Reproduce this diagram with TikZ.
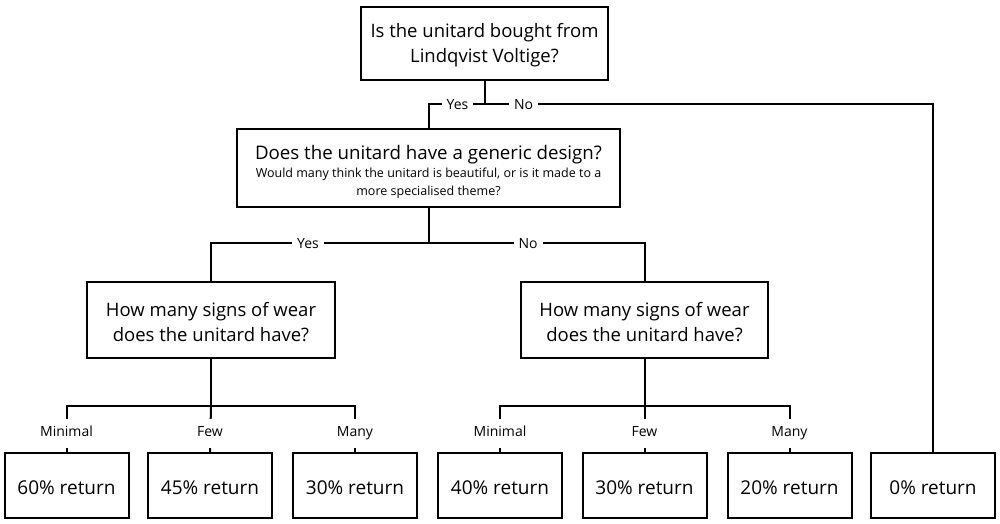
\documentclass[tikz,border=0pt]{standalone}
\usepackage{fontspec}
\setmainfont{Open Sans}
\newcommand\topgap[1]{\rule{0pt}{#1}}
\begin{document}
\begin{tikzpicture}[x=1pt,y=-1pt,
  box/.style={draw,line width=2pt,inner sep=0pt,align=center},
  qtext/.style={font=\fontsize{18.5}{25}\selectfont},
  rbox/.style={box,minimum width=124pt,minimum height=65pt,font=\fontsize{19}{23}\selectfont,
    text height=17pt,text depth=0pt},
  lbl/.style={fill=white,font=\fontsize{14}{16}\selectfont,inner xsep=5pt,inner ysep=1pt,
    text height=10pt,text depth=0pt},
  vlbl/.style={fill=white,font=\fontsize{14}{16}\selectfont,inner xsep=2pt,inner ysep=0pt,
    text height=10pt,text depth=3pt,minimum height=29pt},
  conn/.style={line width=2pt}]
\useasboundingbox (0,0) rectangle (1000,524);
% question boxes
\node[box,qtext,minimum width=247pt,minimum height=73pt] (q1) at (484.5,43.5)
  {\topgap{18pt}Is the unitard bought from\\Lindqvist Voltige?};
\node[box,minimum width=383pt,minimum height=78pt,font=\fontsize{12.5}{18}\selectfont] (q2) at (428.5,168)
  {{\fontsize{18.7}{22}\selectfont\topgap{22pt}Does the unitard have a generic design?}\\
   Would many think the unitard is beautiful, or is it made to a\\
   more specialised theme?};
\node[box,qtext,minimum width=248pt,minimum height=76pt] (q3) at (211,320)
  {\topgap{19pt}How many signs of wear\\does the unitard have?};
\node[box,qtext,minimum width=247pt,minimum height=76pt] (q4) at (644.5,320)
  {\topgap{19pt}How many signs of wear\\does the unitard have?};
% result boxes
\node[rbox] (r1) at (66.5,485.5) {60\% return};
\node[rbox] (r2) at (210,485.5) {45\% return};
\node[rbox] (r3) at (355,485.5) {30\% return};
\node[rbox] (r4) at (500,485.5) {40\% return};
\node[rbox] (r5) at (644.5,485.5) {30\% return};
\node[rbox] (r6) at (789.5,485.5) {20\% return};
\node[rbox] (r7) at (933,485.5) {0\% return};
% junctions
\coordinate (j1) at (484.5,104);
\coordinate (j2) at (428.5,243);
\coordinate (j3) at (211,406);
\coordinate (j4) at (644.5,406);
% connectors
\draw[conn] (q1.south) -- (j1);
\draw[conn] (j1) -| (q2.north);
\draw[conn] (j1) -| (r7.north);
\draw[conn] (q2.south) -- (j2);
\draw[conn] (j2) -| (q3.north);
\draw[conn] (j2) -| (q4.north);
\draw[conn] (q3.south) -- (j3);
\draw[conn] (j3) -| (r1.north);
\draw[conn] (j3) -| (r3.north);
\draw[conn] (j3) -- (r2.north);
\draw[conn] (q4.south) -- (j4);
\draw[conn] (j4) -| (r4.north);
\draw[conn] (j4) -| (r6.north);
\draw[conn] (j4) -- (r5.north);
% labels
\node[lbl] (l1) at (457.5,104.5) {Yes};
\node[lbl] (l2) at (523.5,104.5) {No};
\node[lbl] (l3) at (308,243.5) {Yes};
\node[lbl] (l4) at (528,243.5) {No};
\node[vlbl] (m1) at (66.5,433) {Minimal};
\node[vlbl] (m2) at (210,433) {Few};
\node[vlbl] (m3) at (355,433) {Many};
\node[vlbl] (m4) at (500,433) {Minimal};
\node[vlbl] (m5) at (644.5,433) {Few};
\node[vlbl] (m6) at (789.5,433) {Many};
\end{tikzpicture}
\end{document}
